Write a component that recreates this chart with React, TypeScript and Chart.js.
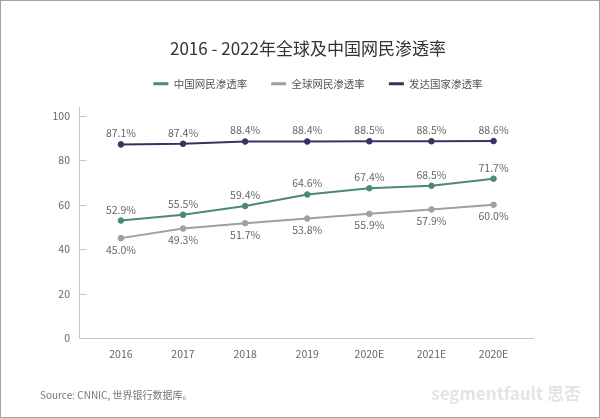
import React, { useEffect, useRef } from "react";
import { Chart, registerables } from "chart.js";

Chart.register(...registerables);

const years = ["2016", "2017", "2018", "2019", "2020E", "2021E", "2020E"];
const chinaRate = [52.9, 55.5, 59.4, 64.6, 67.4, 68.5, 71.7];
const globalRate = [45.0, 49.3, 51.7, 53.8, 55.9, 57.9, 60.0];
const developedRate = [87.1, 87.4, 88.4, 88.4, 88.5, 88.5, 88.6];
const seriesNames = ["中国网民渗透率", "全球网民渗透率", "发达国家渗透率"];
const titleText = "2016 - 2022年全球及中国网民渗透率";
const sourceText = "Source: CNNIC, 世界银行数据库。";

const FONT = "'Noto Sans CJK SC', 'Noto Sans', sans-serif";
const AXIS = "#c4c4d2";
const GREEN = "#4b8b6b";
const GRAY = "#9ca1a3";
const NAVY = "#363362";

const dataLabelPlugin = {
  id: "dataLabels",
  afterDatasetsDraw(chart: any) {
    const ctx = chart.ctx;
    ctx.save();
    ctx.font = `10.5px ${FONT}`;
    ctx.fillStyle = "#666";
    ctx.textAlign = "center";
    ctx.textBaseline = "middle";
    chart.data.datasets.forEach((ds: any, i: number) => {
      const meta = chart.getDatasetMeta(i);
      const off = ds.labelSide === "below" ? 11.5 : -11;
      meta.data.forEach((pt: any, j: number) => {
        ctx.fillText(Number(ds.data[j].y).toFixed(1) + "%", pt.x, pt.y + off);
      });
    });
    ctx.restore();
  },
};

const innerTickPlugin = {
  id: "innerTicks",
  afterDraw(chart: any) {
    const s = chart.scales.y;
    const ctx = chart.ctx;
    ctx.save();
    ctx.strokeStyle = AXIS;
    ctx.lineWidth = 1;
    s.ticks.forEach((t: any) => {
      const y = Math.round(s.getPixelForValue(t.value)) + 0.5;
      ctx.beginPath();
      ctx.moveTo(chart.chartArea.left, y);
      ctx.lineTo(chart.chartArea.left + 7, y);
      ctx.stroke();
    });
    ctx.restore();
  },
};

const placeBoxesPlugin = {
  id: "placeBoxes",
  afterLayout(chart: any) {
    const move = (box: any, cx: number, dy: number) => {
      if (!box) return;
      const dx = cx - (box.left + box.right) / 2;
      box.left += dx;
      box.right += dx;
      box.top += dy;
      box.bottom += dy;
    };
    move(chart.titleBlock, 308, -4.7);
    move(chart.legend, 318, -9);
  },
};

function toPoints(values: number[]) {
  return values.map((v, i) => ({ x: i, y: v }));
}

export default function App() {
  const ref = useRef<HTMLCanvasElement>(null);

  useEffect(() => {
    if (!ref.current) return;
    const mk = (label: string, values: number[], color: string, side: string) => ({
      label,
      data: toPoints(values),
      borderColor: color,
      backgroundColor: color,
      pointBackgroundColor: color,
      pointBorderColor: color,
      pointRadius: 2.8,
      pointBorderWidth: 1,
      borderWidth: 2,
      tension: 0,
      labelSide: side,
    });
    const chart = new Chart(ref.current, {
      type: "line",
      data: {
        datasets: [
          mk(seriesNames[0], chinaRate, GREEN, "above"),
          mk(seriesNames[1], globalRate, GRAY, "below"),
          mk(seriesNames[2], developedRate, NAVY, "above"),
        ] as any,
      },
      plugins: [dataLabelPlugin, innerTickPlugin, placeBoxesPlugin],
      options: {
        animation: false,
        responsive: false,
        layout: { padding: { top: 43, left: 0, right: 66.7, bottom: 0 } },
        plugins: {
          tooltip: { enabled: false },
          title: {
            display: true,
            text: titleText,
            color: "#333",
            font: { family: FONT, size: 17, weight: "normal" as any, lineHeight: 1.2 },
            padding: { top: 0, bottom: 0 },
          },
          legend: {
            display: true,
            position: "top",
            labels: {
              boxWidth: 15,
              boxHeight: 3,
              padding: 24,
              color: "#555",
              font: { family: FONT, size: 10.5 },
              generateLabels: (c: any) =>
                (Chart.defaults.plugins.legend.labels as any)
                  .generateLabels(c)
                  .map((it: any) => ({ ...it, lineWidth: 0, fillStyle: it.strokeStyle })),
            },
          },
        },
        scales: {
          x: {
            type: "linear",
            min: -0.667,
            max: 6.64,
            grid: { display: false, drawTicks: false },
            border: { color: AXIS, width: 1 },
            ticks: {
              stepSize: 1,
              includeBounds: false,
              autoSkip: false,
              maxRotation: 0,
              padding: 9.5,
              color: "#666",
              font: { family: FONT, size: 10.5 },
              callback: (v: any) => (Number.isInteger(v) && years[v] !== undefined ? years[v] : ""),
            },
            afterFit: (s: any) => {
              s.height = 418 - 338.3;
            },
          },
          y: {
            type: "linear",
            min: 0,
            max: 103.5,
            grid: { display: false, drawTicks: false },
            border: { color: AXIS, width: 1 },
            ticks: {
              stepSize: 20,
              includeBounds: false,
              padding: 9.5,
              color: "#666",
              font: { family: FONT, size: 10.5 },
            },
            afterFit: (s: any) => {
              s.width = 79.5;
            },
          },
        },
      } as any,
    });
    return () => chart.destroy();
  }, []);

  return (
    <div
      style={{
        position: "fixed",
        left: 0,
        top: 0,
        width: 600,
        height: 418,
        background: "#fff",
        overflow: "hidden",
      }}
    >
      <canvas ref={ref} width={600} height={418} style={{ display: "block", width: 600, height: 418 }} />
      <div
        style={{
          position: "absolute",
          left: 40,
          top: 388,
          fontFamily: FONT,
          fontSize: 10,
          lineHeight: "14px",
          color: "#777",
          whiteSpace: "nowrap",
        }}
      >
        {sourceText}
      </div>
      <div
        style={{
          position: "absolute",
          right: 19,
          top: 382,
          fontFamily: FONT,
          fontSize: 17,
          fontWeight: "bold",
          lineHeight: "22px",
          color: "#e4e4e4",
          whiteSpace: "nowrap",
        }}
      >
        segmentfault 思否
      </div>
      <div
        style={{
          position: "absolute",
          left: 0,
          top: 0,
          width: 600,
          height: 418,
          boxSizing: "border-box",
          border: "1px solid #a3a3a3",
          pointerEvents: "none",
        }}
      />
    </div>
  );
}
